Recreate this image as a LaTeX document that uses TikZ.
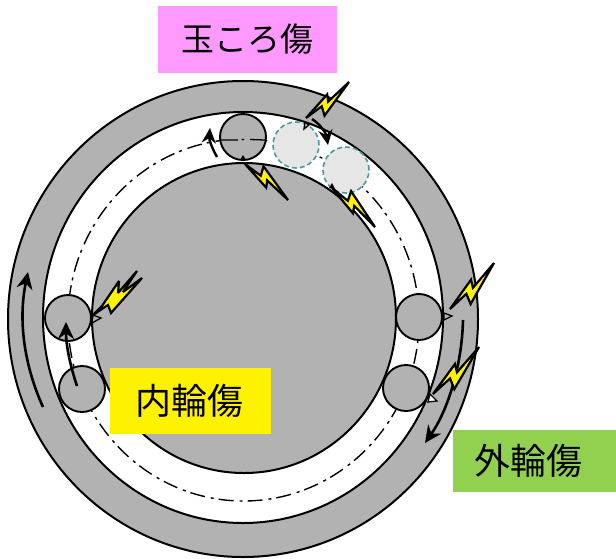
\documentclass[tikz,border=0pt]{standalone}
\usepackage{fontspec}
\newfontfamily\jpfont{Noto Sans CJK JP}
\usetikzlibrary{arrows.meta}
\definecolor{ringgray}{HTML}{B2B2B2}
\definecolor{ghostgray}{HTML}{E6E6E6}
\definecolor{ghostedge}{HTML}{4A9AA0}
\definecolor{pinkbox}{HTML}{FF99FF}
\definecolor{greenbox}{HTML}{92D050}
\tikzset{
  x=1pt,y=-1pt,
  ringline/.style={draw=black,line width=2pt},
  ball/.style={circle,draw=black,line width=1.9pt,fill=ringgray,minimum size=46pt,inner sep=0pt},
  ghostball/.style={circle,draw=ghostedge,line width=1.6pt,dash pattern=on 5pt off 3pt,fill=ghostgray,minimum size=46pt,inner sep=0pt},
  label box/.style={inner sep=0pt,text=black},
  motion/.style={draw=black,line width=2.6pt,-{Stealth[length=17pt,width=16pt]}},
  smallmotion/.style={draw=black,line width=2.4pt,-{Stealth[length=15pt,width=14pt]}},
  pitch/.style={draw=black,line width=1.4pt,dash pattern=on 15pt off 5pt on 3pt off 6pt},
  boltshape/.style={draw=black,line width=2.2pt,fill=yellow,line join=miter,miter limit=3},
  contact/.style={draw=black,line width=1.3pt,fill=ringgray},
}
% #1,#2 tail; #3,#4 tip; #5 side
\newcommand{\lightning}[5]{%
  \pgfmathsetmacro{\ddx}{#3-#1}\pgfmathsetmacro{\ddy}{#4-#2}\pgfmathsetmacro{\ff}{#5}%
  \draw[boltshape] (#1,#2)
   -- ({#1+\ddx*.51+\ff*\ddy*.03},{#2+\ddy*.51-\ff*\ddx*.03})
   -- ({#1+\ddx*.44-\ff*\ddy*.08},{#2+\ddy*.44+\ff*\ddx*.08})
   -- (#3,#4)
   -- ({#1+\ddx*.65+\ff*\ddy*.02},{#2+\ddy*.65-\ff*\ddx*.02})
   -- ({#1+\ddx*.72+\ff*\ddy*.18},{#2+\ddy*.72-\ff*\ddx*.18})
   -- cycle;}
\begin{document}
\begin{tikzpicture}
\useasboundingbox (0,0) rectangle (616,558);
\fill[white] (0,0) rectangle (616,558);
% rings
\draw[ringline,fill=ringgray] (243,319) ellipse[x radius=235,y radius=238];
\draw[ringline,fill=white] (243,317.5) ellipse[x radius=200,y radius=205.5];
\draw[pitch] (243.5,320) ellipse[x radius=175.5,y radius=181];
\draw[ringline,fill=ringgray] (244,318) ellipse[x radius=152,y radius=155];
% rollers
\node[ball] (topball) at (243,137) {};
\node[ghostball] (ghostA) at (296,145) {};
\node[ghostball] (ghostB) at (346,170) {};
\node[ball] (rightA) at (419,317) {};
\node[ball] (rightB) at (406,388) {};
\node[ball] (leftA) at (68,318) {};
\node[ball] (leftB) at (82,389) {};
\draw[draw=black,line width=1.3pt] (221,140) -- (238,140) (241.5,139.5) -- (244,139.5) (250,139.5) -- (265,140);
% labels
\node[label box,fill=pinkbox,minimum width=179pt,minimum height=67pt,font=\jpfont\fontsize{33}{36}\selectfont] (pink) at (247.5,39.5) {\raisebox{-2.5pt}{玉ころ傷}};
\node[label box,fill=yellow,minimum width=161pt,minimum height=66pt,font=\jpfont\fontsize{36}{40}\selectfont] (inner) at (190.5,401) {\hspace*{-3pt}\raisebox{-1pt}{内輪傷}};
\node[label box,fill=greenbox,minimum width=163pt,minimum height=62pt,font=\jpfont\fontsize{36}{40}\selectfont] (outer) at (534.5,461) {\hspace*{-13pt}\raisebox{-1pt}{外輪傷}};
% motion arrows
\draw[motion] (463,320) .. controls (462,365) and (448,410) .. (425,443);
\draw[motion] (43,407) .. controls (24,365) and (18,320) .. (28,272);
\draw[motion] (77,386) .. controls (70,365) and (66,345) .. (66,322);
\draw[smallmotion] (217,157) .. controls (212,148) and (209,140) .. (210,128);
\draw[smallmotion] (312,119) .. controls (320,124) and (326,133) .. (328,145);
% lightning
\lightning{349}{82}{306}{118}{1}
\lightning{288}{200}{245}{164}{-1}
\lightning{375}{227}{332}{188}{-1}
\lightning{494}{263}{450}{309}{1}
\lightning{479}{347}{433}{394}{1}
\draw[boltshape] (137,271) -- (118,293) -- (119,281) -- (102,306) -- (93,315) -- (108,305) -- (111,313) -- (142,278) -- (123,292) -- cycle;
% contact tips
\draw[contact] (305,122) -- (309,125) -- (304,129) -- cycle;
\fill[black] (243,155) -- (246,160) -- (240,160) -- cycle;
\fill[black] (332,183) -- (335,189) -- (329,188) -- cycle;
\draw[contact] (444,313) -- (452,316) -- (444,320) -- cycle;
\draw[contact,fill=white] (430,394) -- (437,401) -- (428,402) -- cycle;
\draw[contact] (93,315) -- (101,318) -- (92,323) -- cycle;
\end{tikzpicture}
\end{document}
